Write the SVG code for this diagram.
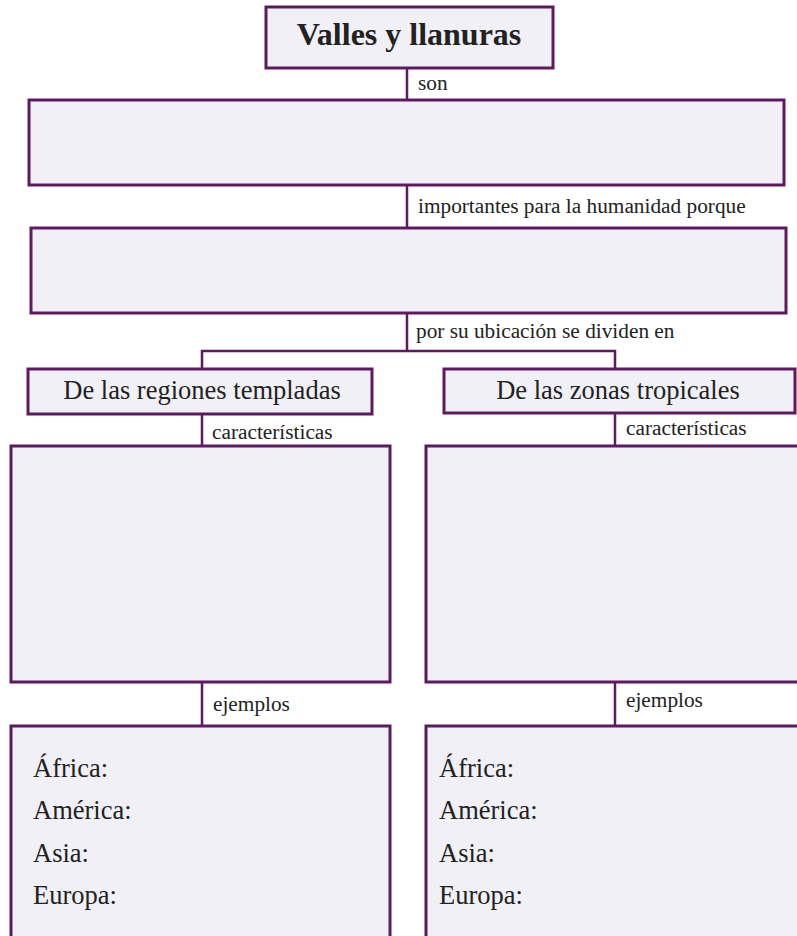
<svg xmlns="http://www.w3.org/2000/svg" width="797" height="936" viewBox="0 0 797 936">
<style>
.box{fill:#f1f0f7;stroke:#5e1a5e;stroke-width:3}
.ln{fill:none;stroke:#5e1a5e;stroke-width:2.5}
.lbl{font-family:"Liberation Serif",serif;font-size:21.3px;fill:#222}
.t{font-family:"Liberation Serif",serif;font-size:26.5px;fill:#222}
.title{font-family:"Liberation Serif",serif;font-size:32px;font-weight:bold;fill:#222}
</style>
<rect width="797" height="936" fill="#fff"/>
<g id="connectors">
<path class="ln" d="M407,68V100"/>
<path class="ln" d="M407,185V228"/>
<path class="ln" d="M407,313V351M202,369V351H615V369"/>
<path class="ln" d="M202,414V446"/>
<path class="ln" d="M615,413V446"/>
<path class="ln" d="M202,682V726"/>
<path class="ln" d="M615,682V726"/>
<text class="lbl" x="418" y="90">son</text>
<text class="lbl" x="418" y="213">importantes para la humanidad porque</text>
<text class="lbl" x="416" y="338">por su ubicación se dividen en</text>
<text class="lbl" x="212" y="439">características</text>
<text class="lbl" x="626" y="435">características</text>
<text class="lbl" x="213" y="711">ejemplos</text>
<text class="lbl" x="626" y="707">ejemplos</text>
</g>
<g id="title">
<rect class="box" x="266" y="7" width="287" height="61"/>
<text class="title" x="409" y="45" text-anchor="middle">Valles y llanuras</text>
</g>
<g id="son-box"><rect class="box" x="29" y="100" width="755" height="85"/></g>
<g id="porque-box"><rect class="box" x="31" y="228" width="755" height="85"/></g>
<g id="templadas">
<rect class="box" x="28" y="369" width="344" height="45"/>
<text class="t" x="202" y="399" text-anchor="middle">De las regiones templadas</text>
</g>
<g id="tropicales">
<rect class="box" x="444" y="369" width="351" height="44"/>
<text class="t" x="618" y="399" text-anchor="middle">De las zonas tropicales</text>
</g>
<g id="carac-templadas"><rect class="box" x="11" y="446" width="379" height="236"/></g>
<g id="carac-tropicales"><rect class="box" x="426" y="446" width="380" height="236"/></g>
<g id="ej-templadas">
<rect class="box" x="11" y="726" width="379" height="220"/>
<text class="t" x="33" y="777">África:</text>
<text class="t" x="33" y="819">América:</text>
<text class="t" x="33" y="862">Asia:</text>
<text class="t" x="33" y="904">Europa:</text>
</g>
<g id="ej-tropicales">
<rect class="box" x="426" y="726" width="380" height="220"/>
<text class="t" x="439" y="777">África:</text>
<text class="t" x="439" y="819">América:</text>
<text class="t" x="439" y="862">Asia:</text>
<text class="t" x="439" y="904">Europa:</text>
</g>
</svg>
